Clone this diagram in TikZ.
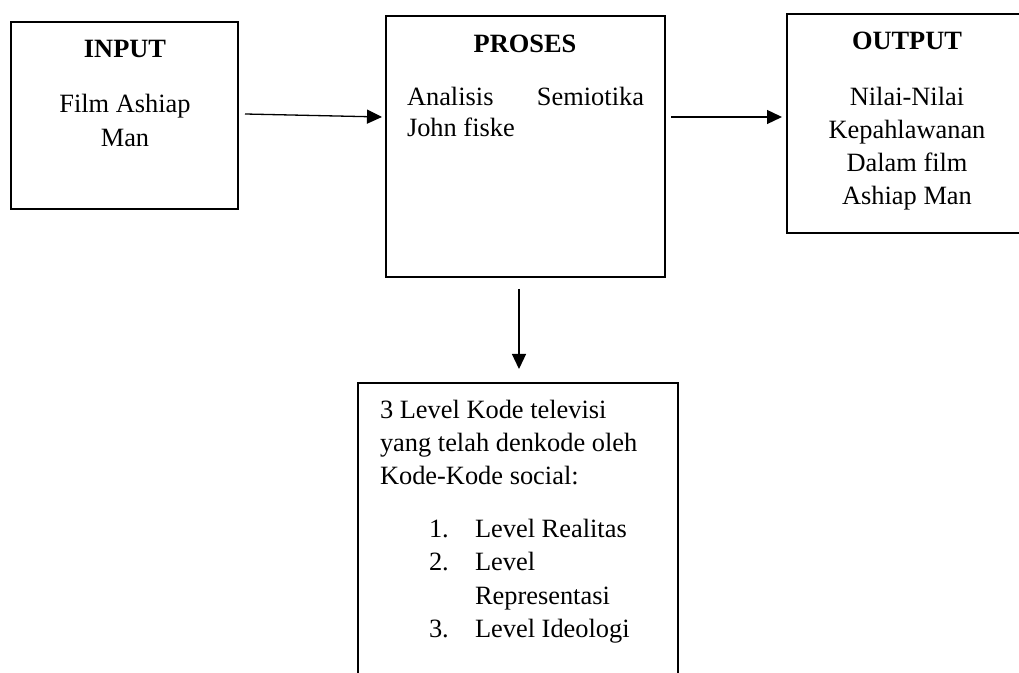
\documentclass[tikz,border=0pt]{standalone}
\usepackage{fontspec}
\setmainfont{Liberation Serif}
\usetikzlibrary{arrows.meta}
\tikzset{
  boxnode/.style={draw=black, line width=0.9pt, inner sep=0pt, outer sep=0pt, fill=none},
  arr/.style={line width=0.65pt, -{Triangle[length=7.5pt,width=7pt]}},
  txt/.style={inner sep=0pt, outer sep=0pt, font=\fontsize{13.2}{16}\selectfont},
  ttl/.style={txt, font=\fontsize{13.2}{16}\selectfont\bfseries},
}
\begin{document}
\begin{tikzpicture}[x=0.5pt,y=-0.5pt]
\useasboundingbox (0,0) rectangle (1019,673);
\clip (0,0) rectangle (1019,673);
\fill[white] (0,0) rectangle (1019,673);

% boxes
\node[boxnode, minimum width=113.5pt, minimum height=93.5pt] (input) at (124.5,115.5) {};
\node[boxnode, minimum width=139.5pt, minimum height=130.5pt] (proses) at (525.5,146.5) {};
\node[boxnode, minimum width=120pt, minimum height=109.5pt] (output) at (907,123.5) {};
\node[boxnode, minimum width=160pt, minimum height=158.5pt] (kode) at (518,541.5) {};

% INPUT text
\node[ttl, anchor=base] (tin) at (125,58) {INPUT};
\node[txt, anchor=base] (in1) at (125,113) {Film Ashiap};
\node[txt, anchor=base] (in2) at (125,147) {Man};

% PROSES text
\node[ttl, anchor=base] (tpr) at (525,53) {PROSES};
\node[txt, anchor=base west] (pr1) at (407,106) {\makebox[118.5pt][s]{Analisis\hfill Semiotika}};
\node[txt, anchor=base west] (pr2) at (407,137) {John fiske};

% OUTPUT text
\node[ttl, anchor=base] (tout) at (907,50) {OUTPUT};
\node[txt, anchor=base] (ou1) at (907,106) {Nilai-Nilai};
\node[txt, anchor=base] (ou2) at (907,139) {Kepahlawanan};
\node[txt, anchor=base] (ou3) at (907,172) {Dalam film};
\node[txt, anchor=base] (ou4) at (907,205) {Ashiap Man};

% bottom box text
\node[txt, anchor=base west] (k1) at (380,419) {3 Level Kode televisi};
\node[txt, anchor=base west] (k2) at (380,452) {yang telah denkode oleh};
\node[txt, anchor=base west] (k3) at (380,485) {Kode-Kode social:};
\node[txt, anchor=base west] (n1) at (429,538) {1.};
\node[txt, anchor=base west] (l1) at (475,538) {Level Realitas};
\node[txt, anchor=base west] (n2) at (429,571) {2.};
\node[txt, anchor=base west] (l2) at (475,571) {Level};
\node[txt, anchor=base west] (l2b) at (475,605) {Representasi};
\node[txt, anchor=base west] (n3) at (429,638) {3.};
\node[txt, anchor=base west] (l3) at (475,638) {Level Ideologi};

% connectors
\coordinate (a1s) at (245,114);
\coordinate (a1e) at (382,117);
\coordinate (a2s) at (671,117);
\coordinate (a2e) at (782,117);
\coordinate (a3s) at (519,289);
\coordinate (a3e) at (519,369);
\draw[arr] (a1s) -- (a1e);
\draw[arr] (a2s) -- (a2e);
\draw[arr] (a3s) -- (a3e);
\end{tikzpicture}
\end{document}
